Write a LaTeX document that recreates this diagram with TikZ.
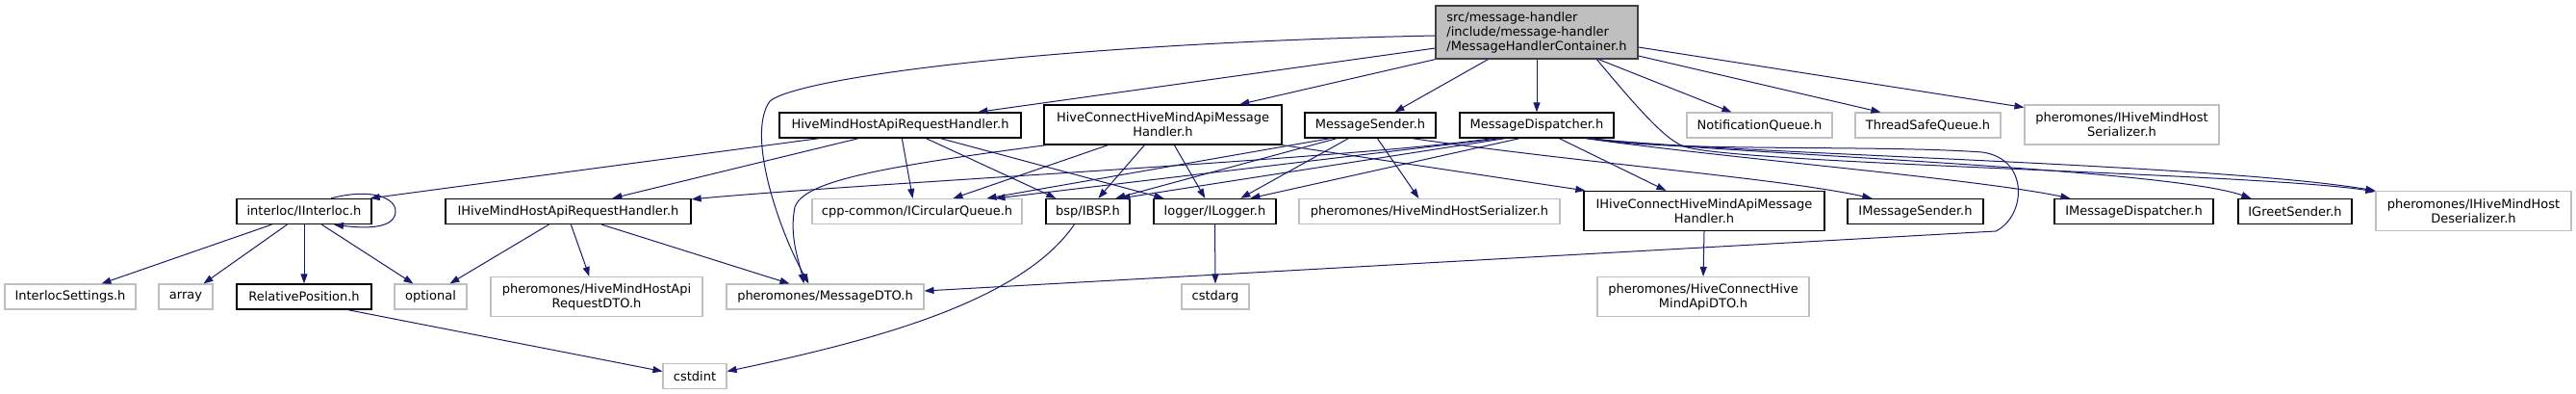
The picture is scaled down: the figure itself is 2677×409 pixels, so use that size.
\documentclass[tikz,border=0pt]{standalone}
\usepackage{fontspec}
\setmainfont{DejaVu Sans}
\usetikzlibrary{arrows.meta}
\definecolor{edgeblue}{HTML}{191970}
\definecolor{lgray}{HTML}{BFBFBF}
\definecolor{topfill}{HTML}{BFBFBF}
\definecolor{topdraw}{HTML}{404040}
\begin{document}
\begin{tikzpicture}[x=1pt,y=-1pt,
  font=\fontsize{13}{15}\selectfont,
  box/.style={draw, rectangle, inner sep=0pt, text=black, align=center},
  docbox/.style={box, draw=black, line width=1.3pt},
  extbox/.style={box, draw=lgray, line width=1.1pt},
  topbox/.style={box, draw=topdraw, fill=topfill, line width=1.3pt, align=left},
  one/.style={minimum height=26pt},
  two/.style={minimum height=41pt},
  edge/.style={draw=edgeblue, line width=1pt, -{Triangle[length=10pt,width=7pt]}}
]
\fill[white] (0,0) rectangle (2677,409);
\useasboundingbox (0,0) rectangle (2677,409);

% row 0
\node[topbox, minimum width=210pt, minimum height=55pt] (top) at (1597,33.5)
  {src/message-handler\\/include/message-handler\\/MessageHandlerContainer.h};

% row 1
\node[docbox, one, minimum width=251pt] (hmh) at (935.5,130) {HiveMindHostApiRequestHandler.h};
\node[docbox, two, minimum width=247pt] (hc) at (1208.5,129.5) {HiveConnectHiveMindApiMessage\\Handler.h};
\node[docbox, one, minimum width=136pt] (ms) at (1424,130) {MessageSender.h};
\node[docbox, one, minimum width=160pt] (md) at (1597,130) {MessageDispatcher.h};
\node[extbox, one, minimum width=151pt] (nq) at (1828.5,130) {NotificationQueue.h};
\node[extbox, one, minimum width=151pt] (tsq) at (2003.5,130) {ThreadSafeQueue.h};
\node[extbox, two, minimum width=202pt] (ihs) at (2205,129.5) {pheromones/IHiveMindHost\\Serializer.h};

% row 2
\node[docbox, one, minimum width=140pt] (ii) at (316,219.5) {interloc/IInterloc.h};
\node[docbox, one, minimum width=255pt] (ihmh) at (590.5,219.5) {IHiveMindHostApiRequestHandler.h};
\node[extbox, one, minimum width=218pt] (icq) at (953,219.5) {cpp-common/ICircularQueue.h};
\node[docbox, one, minimum width=87pt] (bsp) at (1130.5,219.5) {bsp/IBSP.h};
\node[docbox, one, minimum width=127pt] (log) at (1262.5,219.5) {logger/ILogger.h};
\node[extbox, one, minimum width=271pt] (hmhs) at (1485.5,219.5) {pheromones/HiveMindHostSerializer.h};
\node[docbox, two, minimum width=250pt] (ihc) at (1771,219) {IHiveConnectHiveMindApiMessage\\Handler.h};
\node[docbox, one, minimum width=141pt] (ims) at (1990.5,219.5) {IMessageSender.h};
\node[docbox, one, minimum width=165pt] (imd) at (2217.5,219.5) {IMessageDispatcher.h};
\node[docbox, one, minimum width=118pt] (igs) at (2385,219.5) {IGreetSender.h};
\node[extbox, two, minimum width=203pt] (ihd) at (2570.5,219) {pheromones/IHiveMindHost\\Deserializer.h};

% row 3
\node[extbox, one, minimum width=136pt] (is) at (73,308) {InterlocSettings.h};
\node[extbox, one, minimum width=56pt] (arr) at (193,308) {array};
\node[docbox, one, minimum width=140pt] (rp) at (316,308) {RelativePosition.h};
\node[extbox, one, minimum width=75pt] (opt) at (447.5,308) {optional};
\node[extbox, two, minimum width=220pt] (hrd) at (620,308) {pheromones/HiveMindHostApi\\RequestDTO.h};
\node[extbox, one, minimum width=205pt] (mdto) at (857.5,308) {pheromones/MessageDTO.h};
\node[extbox, one, minimum width=70pt] (cda) at (1263,308) {cstdarg};
\node[extbox, two, minimum width=220pt] (hcdto) at (1770,308) {pheromones/HiveConnectHive\\MindApiDTO.h};

% row 4
\node[extbox, one, minimum width=66pt] (cdi) at (722,390.5) {cstdint};

% edges from top
\draw[edge] ([yshift=-3.5pt]top.west) .. controls (1100,45) and (830,80) .. (800,105)
  .. controls (775,140) and (810,240) .. ([xshift=86pt]mdto.north west);
\draw[edge] ([yshift=-16.5pt]top.west) -- ([xshift=207pt]hmh.north west);
\draw[edge] (top.south west) -- ([xshift=204pt]hc.north west);
\draw[edge] ([xshift=55pt]top.south west) -- ([xshift=94pt]ms.north west);
\draw[edge] (top.south) -- (md.north);
\draw[edge] ([xshift=170pt]top.south west) -- ([xshift=47pt]nq.north west);
\draw[edge] ([yshift=-24.5pt]top.east) -- ([xshift=27pt]tsq.north west);
\draw[edge] ([yshift=-15.5pt]top.east) -- ([yshift=-3pt]ihs.north west);
\draw[edge] ([xshift=168pt]top.south west) .. controls (1700,110) and (1730,145) .. (1750,152)
  .. controls (1800,170) and (2350,180) .. ([yshift=-1pt]ihd.north west);

% edges from HiveMindHostApiRequestHandler
\draw[edge] ([xshift=42pt]hmh.south west) -- ([xshift=-2pt]ii.north east);
\draw[edge] ([xshift=83pt]hmh.south west) -- ([xshift=174pt]ihmh.north west);
\draw[edge] ([xshift=128pt]hmh.south west) -- ([xshift=105pt]icq.north west);
\draw[edge] ([xshift=153pt]hmh.south west) -- ([xshift=11pt]bsp.north west);
\draw[edge] ([xshift=168pt]hmh.south west) -- ([xshift=11pt]log.north west);

% edges from HiveConnectHiveMindApiMessageHandler
\draw[edge] ([xshift=3pt]hc.south west) .. controls (900,175) and (835,190) .. (826,215)
  .. controls (820,245) and (830,270) .. ([xshift=81pt]mdto.north west);
\draw[edge] ([xshift=67pt]hc.south west) -- ([xshift=147pt]icq.north west);
\draw[edge] ([xshift=105pt]hc.south west) -- ([xshift=55pt]bsp.north west);
\draw[edge] ([xshift=136pt]hc.south west) -- ([xshift=54pt]log.north west);
\draw[edge] (hc.south east) -- ([xshift=2pt]ihc.north west);

% edges from MessageSender
\draw[edge] ([xshift=27pt]ms.south west) -- ([xshift=182pt]icq.north west);
\draw[edge] ([xshift=34pt]ms.south west) -- ([xshift=73pt]bsp.north west);
\draw[edge] ([xshift=46pt]ms.south west) -- ([xshift=91pt]log.north west);
\draw[edge] ([xshift=76pt]ms.south west) -- ([xshift=125pt]hmhs.north west);
\draw[edge] ([xshift=112pt]ms.south west) .. controls (1650,170) and (1850,185) .. ([xshift=26pt]ims.north west);

% edges from MessageDispatcher
\draw[edge] ([xshift=35pt]md.south west) .. controls (1400,165) and (900,190) .. ([yshift=-1pt]ihmh.north east);
\draw[edge] ([xshift=43pt]md.south west) -- ([xshift=191pt]icq.north west);
\draw[edge] ([xshift=48pt]md.south west) -- ([xshift=78pt]bsp.north west);
\draw[edge] ([xshift=63pt]md.south west) -- ([xshift=101pt]log.north west);
\draw[edge] ([xshift=104pt]md.south west) -- ([xshift=86pt]ihc.north west);
\draw[edge] ([xshift=131pt]md.south west) .. controls (1800,165) and (2050,185) .. ([xshift=17pt]imd.north west);
\draw[edge] ([xshift=133pt]md.south west) .. controls (1800,160) and (2250,175) .. ([xshift=14pt]igs.north west);
\draw[edge] ([xshift=135pt]md.south west) .. controls (1800,160) and (2300,170) .. (ihd.north west);
\draw[edge] ([xshift=138pt]md.south west) .. controls (1720,158) and (1950,150) .. (2060,158)
  .. controls (2110,165) and (2105,225) .. (2074,240) -- ([yshift=6pt]mdto.east);

% edges from IInterloc
\draw[edge] ([xshift=28pt]ii.north) .. controls (385,195) and (412,205) .. (411,220)
  .. controls (410,236) and (385,238) .. ([xshift=31pt]ii.south);
\draw[edge] ([xshift=37pt]ii.south west) -- ([xshift=101pt]is.north west);
\draw[edge] ([xshift=53pt]ii.south west) -- ([xshift=47pt]arr.north west);
\draw[edge] (ii.south) -- (rp.north);
\draw[edge] ([xshift=89pt]ii.south west) -- ([xshift=20pt]opt.north west);

% edges from IHiveMindHostApiRequestHandler
\draw[edge] ([xshift=108pt]ihmh.south west) -- ([xshift=58pt]opt.north west);
\draw[edge] ([xshift=131pt]ihmh.south west) -- ([xshift=103pt]hrd.north west);
\draw[edge] ([xshift=163pt]ihmh.south west) -- ([xshift=66pt]mdto.north west);

% lower edges
\draw[edge] ([xshift=116pt]rp.south west) -- ([yshift=5pt]cdi.west);
\draw[edge] ([xshift=30pt]bsp.south west) .. controls (1060,315) and (900,355) .. ([yshift=5pt]cdi.east);
\draw[edge] (log.south) -- (cda.north);
\draw[edge] (ihc.south) -- (hcdto.north);
\end{tikzpicture}
\end{document}
